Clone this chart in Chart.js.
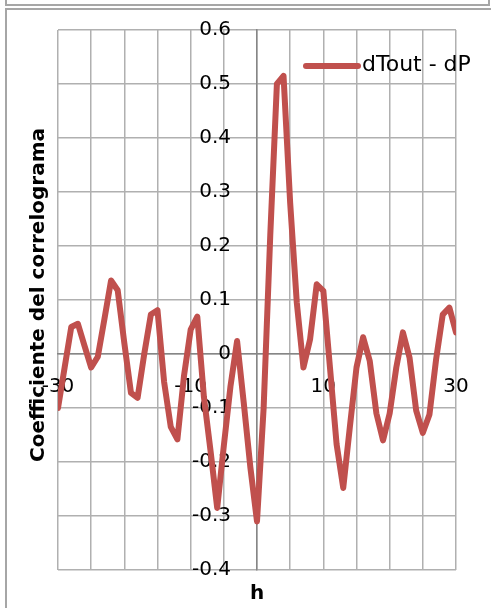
<!DOCTYPE html>
<html>
<head>
<meta charset="utf-8">
<script src="https://cdn.jsdelivr.net/npm/chart.js@4/dist/chart.umd.min.js"></script>
<style>
    body { margin: 0; background: #fff; }
    #wrap { position: relative; width: 491px; height: 608px; overflow: hidden; }
    .frame { position: absolute; border: 2px solid #a6a6a6; box-sizing: border-box; }
    #boxTop { left: 5px; top: -12px; width: 485px; height: 18px; }
    #boxChart { left: 5px; top: 8px; width: 600px; height: 700px; }
    #chart { position: absolute; left: 0; top: 0; }
</style>
</head>
<body>
<div id="wrap">
    <div class="frame" id="boxTop"></div>
    <div class="frame" id="boxChart"></div>
    <canvas id="chart" width="491" height="608"></canvas>
</div>
<script>
// --- Data ---
const lags = [
    -30, -29, -28, -27, -26, -25, -24, -23, -22, -21, -20, -19, -18, -17, -16, -15,
    -14, -13, -12, -11, -10, -9, -8, -7, -6, -5, -4, -3, -2, -1, 0,
    1, 2, 3, 4, 5, 6, 7, 8, 9, 10, 11, 12, 13, 14, 15,
    16, 17, 18, 19, 20, 21, 22, 23, 24, 25, 26, 27, 28, 29, 30
];
const coefficients = [
    -0.100, -0.025, 0.050, 0.056, 0.015, -0.025, -0.005, 0.065, 0.136, 0.118, 0.020, -0.072, -0.081, 0.000, 0.073, 0.081,
    -0.052, -0.135, -0.158, -0.040, 0.045, 0.069, -0.080, -0.180, -0.285, -0.170, -0.060, 0.024, -0.090, -0.210, -0.310,
    -0.100, 0.220, 0.500, 0.515, 0.280, 0.095, -0.025, 0.027, 0.129, 0.117, -0.025, -0.167, -0.248, -0.135, -0.025,
    0.031, -0.013, -0.110, -0.160, -0.110, -0.025, 0.040, -0.007, -0.105, -0.146, -0.112, -0.010, 0.073, 0.086, 0.040
];
const seriesLabel = 'dTout - dP';
const xLabelTicks = [-30, -10, 10, 30];
const xTitle = 'h';
const yTitle = 'Coefficiente del correlograma';

const lineColor = '#c0504d';
const gridColor = '#b0b0b0';
const axisColor = '#868686';
const fontFamily = '"DejaVu Sans", sans-serif';

const fmtY = v => String(Math.round(v * 10) / 10);

// --- y tick labels: Chart.js puts them flush on a centred axis, Excel leaves a gap ---
const yLabelsPlugin = {
    id: 'yLabels',
    beforeDatasetsDraw(chart) {
        const ctx = chart.ctx;
        const yScale = chart.scales.y;
        const axisX = chart.scales.x.getPixelForValue(0);
        ctx.save();
        ctx.fillStyle = '#000';
        ctx.font = '20px ' + fontFamily;
        ctx.textAlign = 'right';
        ctx.textBaseline = 'middle';
        yScale.ticks.forEach(t => {
            ctx.fillText(fmtY(t.value), axisX - 26, yScale.getPixelForValue(t.value));
        });
        ctx.restore();
    }
};

// --- Titles and legend drawn by hand (axes sit at 0, not at the edges) ---
const extrasPlugin = {
    id: 'extras',
    afterDraw(chart) {
        const ctx = chart.ctx;
        ctx.save();
        ctx.fillStyle = '#000';

        // y title, rotated
        ctx.font = 'bold 20px ' + fontFamily;
        ctx.textAlign = 'center';
        ctx.textBaseline = 'middle';
        ctx.translate(39, 295);
        ctx.rotate(-Math.PI / 2);
        ctx.fillText(yTitle, 0, 0);
        ctx.setTransform(1, 0, 0, 1, 0, 0);

        // x title
        const xScale = chart.scales.x;
        ctx.textBaseline = 'alphabetic';
        ctx.fillText(xTitle, xScale.getPixelForValue(0), 599);

        // legend entry
        const ds = chart.data.datasets[0];
        ctx.strokeStyle = ds.borderColor;
        ctx.lineWidth = ds.borderWidth;
        ctx.lineCap = 'round';
        ctx.beginPath();
        ctx.moveTo(306, 66);
        ctx.lineTo(358, 66);
        ctx.stroke();
        ctx.font = '22px ' + fontFamily;
        ctx.textAlign = 'left';
        ctx.textBaseline = 'middle';
        ctx.fillText(ds.label, 362, 65);
        ctx.restore();
    }
};

new Chart(document.getElementById('chart'), {
    type: 'scatter',
    data: {
        datasets: [{
            label: seriesLabel,
            data: lags.map((h, i) => ({ x: h, y: coefficients[i] })),
            showLine: true,
            borderColor: lineColor,
            backgroundColor: lineColor,
            borderWidth: 6,
            borderJoinStyle: 'round',
            borderCapStyle: 'round',
            pointRadius: 0,
            tension: 0
        }]
    },
    options: {
        responsive: false,
        animation: false,
        layout: { padding: { left: 58, top: 30, right: 35, bottom: 38 } },
        plugins: {
            legend: { display: false },
            tooltip: { enabled: false }
        },
        scales: {
            x: {
                type: 'linear',
                position: { y: 0 },
                min: -30,
                max: 30,
                grid: { color: gridColor, lineWidth: 1.5, drawTicks: false },
                border: { color: axisColor, width: 1.5 },
                ticks: {
                    stepSize: 5,
                    autoSkip: false,
                    maxRotation: 0,
                    padding: 21,
                    color: '#000',
                    font: { family: fontFamily, size: 20 },
                    callback: v => xLabelTicks.includes(v) ? String(v) : ''
                }
            },
            y: {
                type: 'linear',
                position: { x: 0 },
                min: -0.4,
                max: 0.6,
                grid: { color: gridColor, lineWidth: 1.5, drawTicks: false },
                border: { color: axisColor, width: 1.5 },
                ticks: {
                    stepSize: 0.1,
                    display: false
                }
            }
        }
    },
    plugins: [yLabelsPlugin, extrasPlugin]
});
</script>
</body>
</html>
